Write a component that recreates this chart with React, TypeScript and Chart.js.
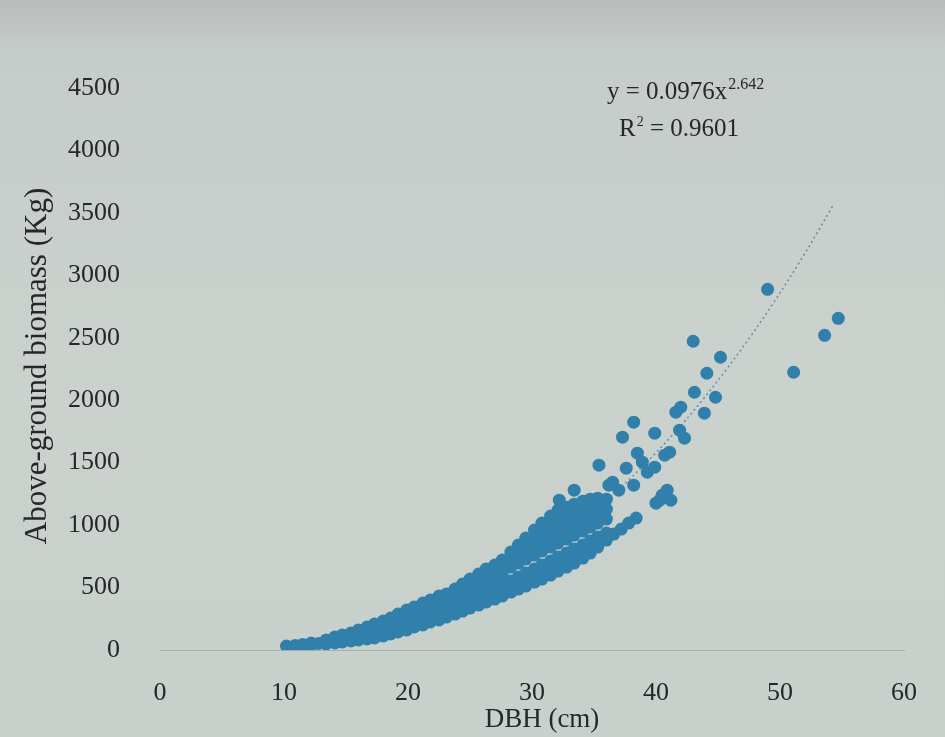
import React, { useEffect, useRef } from 'react';
import { Chart, registerables } from 'chart.js';

Chart.register(...registerables);

// ---- tick labels & texts ----
const X_TICKS = [0, 10, 20, 30, 40, 50, 60];
const Y_TICKS = [0, 500, 1000, 1500, 2000, 2500, 3000, 3500, 4000, 4500];
const X_TITLE = 'DBH (cm)';
const Y_TITLE = 'Above-ground biomass (Kg)';
const EQ_MAIN = 'y = 0.0976x';
const EQ_EXP = '2.642';
const R2_BASE = 'R';
const R2_EXP = '2';
const R2_VALUE = ' = 0.9601';

// ---- data: [DBH (cm), biomass (Kg)] ----
const mainBand: [number, number][] = [
  [10.2, 32], [10.9, 36], [11.5, 44],
  [12.2, 40], [12.2, 56], [12.8, 52],
  [13.4, 48], [13.4, 80], [14.1, 56], [14.1, 104],
  [14.7, 64], [14.7, 120], [15.4, 72], [15.4, 136],
  [16.0, 80], [16.0, 160],
  [16.7, 88], [16.7, 136], [16.7, 184],
  [17.3, 96], [17.3, 150], [17.3, 208],
  [18.0, 112], [18.0, 170], [18.0, 232],
  [18.6, 128], [18.6, 190], [18.6, 256],
  [19.2, 144], [19.2, 215], [19.2, 288],
  [19.9, 160], [19.9, 240], [19.9, 320],
  [20.5, 184], [20.5, 240], [20.5, 290], [20.5, 344],
  [21.2, 200], [21.2, 260], [21.2, 320], [21.2, 376],
  [21.8, 224], [21.8, 280], [21.8, 340], [21.8, 400],
  [22.5, 240], [22.5, 305], [22.5, 370], [22.5, 432],
  [23.1, 264], [23.1, 325], [23.1, 385], [23.1, 448],
  [23.8, 288], [23.8, 355], [23.8, 420], [23.8, 488],
  [24.4, 312], [24.4, 380], [24.4, 450], [24.4, 528],
  [25.0, 336], [25.0, 400], [25.0, 470], [25.0, 530], [25.0, 568],
  [25.7, 360], [25.7, 420], [25.7, 480], [25.7, 545], [25.7, 608],
  [26.3, 384], [26.3, 450], [26.3, 515], [26.3, 580], [26.3, 648],
  [27.0, 408], [27.0, 470], [27.0, 530], [27.0, 590], [27.0, 640], [27.0, 680],
  [27.6, 432], [27.6, 490], [27.6, 550], [27.6, 610], [27.6, 665], [27.6, 720],
];

const upperBranch: [number, number][] = [
  [28.3, 664], [28.3, 720], [28.3, 784],
  [28.9, 696], [28.9, 770], [28.9, 840],
  [29.5, 728], [29.5, 784], [29.5, 840], [29.5, 896],
  [30.2, 760], [30.2, 825], [30.2, 890], [30.2, 960],
  [30.8, 792], [30.8, 866], [30.8, 940], [30.8, 1016],
  [31.5, 824], [31.5, 886], [31.5, 948], [31.5, 1010], [31.5, 1072],
  [32.1, 856], [32.1, 922], [32.1, 988], [32.1, 1054], [32.1, 1120],
  [32.8, 888], [32.8, 952], [32.8, 1016], [32.8, 1080], [32.8, 1144],
  [33.4, 920], [33.4, 982], [33.4, 1044], [33.4, 1106], [33.4, 1168],
  [34.1, 952], [34.1, 1012], [34.1, 1072], [34.1, 1132], [34.1, 1192],
  [34.7, 984], [34.7, 1058], [34.7, 1132], [34.7, 1208],
  [35.3, 1016], [35.3, 1083], [35.3, 1150], [35.3, 1216],
  [36.0, 1048], [36.0, 1128], [36.0, 1208],
];

const lowerBranch: [number, number][] = [
  [28.3, 464], [28.3, 510], [28.3, 552],
  [28.9, 488], [28.9, 536], [28.9, 584],
  [29.5, 512], [29.5, 564], [29.5, 616],
  [30.2, 544], [30.2, 600], [30.2, 648],
  [30.8, 568], [30.8, 624], [30.8, 680],
  [31.5, 600], [31.5, 656], [31.5, 712],
  [32.1, 632], [32.1, 688], [32.1, 744],
  [32.8, 664], [32.8, 720], [32.8, 776],
  [33.4, 696], [33.4, 752], [33.4, 808],
  [34.1, 736], [34.1, 790], [34.1, 840],
  [34.7, 776], [34.7, 872],
  [35.3, 824], [35.3, 904],
  [36.0, 880], [36.0, 936],
  [36.6, 928], [37.2, 968], [37.8, 1016], [38.4, 1056],
  [40.0, 1176], [40.3, 1200], [40.5, 1240], [40.9, 1280], [41.2, 1200],
];

const scattered: [number, number][] = [
  [32.2, 1200], [33.4, 1280], [35.4, 1480], [37.6, 1456],
  [36.5, 1344], [36.2, 1320], [37.0, 1280], [38.2, 1320],
  [38.5, 1576], [38.9, 1504], [39.3, 1424], [39.9, 1464],
  [40.7, 1560], [41.1, 1584],
  [37.3, 1704], [38.2, 1824], [39.9, 1736], [41.9, 1760],
  [42.3, 1696], [41.6, 1904], [42.0, 1944],
  [43.1, 2064], [43.9, 1896], [44.8, 2024], [44.1, 2216],
  [45.2, 2344], [43.0, 2472],
  [49.0, 2888], [51.1, 2224], [53.6, 2520], [54.7, 2656],
];

// dotted power trendline
const trendDbh = [10, 15, 20, 25, 30, 35, 40, 42.4, 44, 46, 48, 50, 52, 54.3];
const trendBiomass = [40, 118, 253, 456, 740, 1110, 1580, 1842, 2033, 2289, 2564, 2859, 3174, 3563];

// ---- styles ----
const POINT_COLOR = '#3180ab';
const TREND_COLOR = 'rgba(78,136,170,0.9)';
const TEXT_COLOR = '#262827';
const SERIF = '"Liberation Serif", "DejaVu Serif", serif';

const bgPlugin = {
  id: 'photoBg',
  beforeDraw(chart: any) {
    const { ctx, width, height } = chart;
    ctx.save();
    const g = ctx.createLinearGradient(0, 0, 0, height);
    g.addColorStop(0, '#b8bdbb');
    g.addColorStop(0.07, '#c6ccc9');
    g.addColorStop(0.5, '#cbd2ce');
    g.addColorStop(1, '#c8d0cb');
    ctx.fillStyle = g;
    ctx.fillRect(0, 0, width, height);
    ctx.restore();
  },
};

const textPlugin = {
  id: 'texts',
  afterDraw(chart: any) {
    const { ctx } = chart;
    ctx.save();
    ctx.fillStyle = TEXT_COLOR;
    ctx.textBaseline = 'alphabetic';

    // y title
    ctx.save();
    ctx.translate(46, 366);
    ctx.rotate(-Math.PI / 2);
    ctx.font = `31px ${SERIF}`;
    ctx.textAlign = 'center';
    ctx.fillText(Y_TITLE, 0, 0);
    ctx.restore();

    // x title
    ctx.font = `27px ${SERIF}`;
    ctx.textAlign = 'center';
    ctx.fillText(X_TITLE, 542, 727);

    // equation
    ctx.textAlign = 'left';
    ctx.font = `25px ${SERIF}`;
    const x0 = 607;
    ctx.fillText(EQ_MAIN, x0, 99);
    const w1 = ctx.measureText(EQ_MAIN).width;
    ctx.font = `16px ${SERIF}`;
    ctx.fillText(EQ_EXP, x0 + w1 + 1, 89);

    ctx.font = `25px ${SERIF}`;
    const x1 = 619;
    ctx.fillText(R2_BASE, x1, 136);
    const wr = ctx.measureText(R2_BASE).width;
    ctx.font = `14px ${SERIF}`;
    ctx.fillText(R2_EXP, x1 + wr + 1, 126);
    const we = ctx.measureText(R2_EXP).width;
    ctx.font = `25px ${SERIF}`;
    ctx.fillText(R2_VALUE, x1 + wr + we + 1, 136);
    ctx.restore();
  },
};

export default function App() {
  const ref = useRef<HTMLCanvasElement>(null);

  useEffect(() => {
    const canvas = ref.current;
    if (!canvas) return;
    const pts = [...mainBand, ...upperBranch, ...lowerBranch, ...scattered].map(([x, y]) => ({ x, y }));
    const trend = trendDbh.map((x, i) => ({ x, y: trendBiomass[i] }));

    const tickFont = { family: SERIF, size: 26 };

    const chart = new Chart(canvas, {
      type: 'scatter',
      data: {
        datasets: [
          {
            data: pts,
            backgroundColor: POINT_COLOR,
            borderWidth: 0,
            pointRadius: 6.5,
            pointHoverRadius: 6.5,
          },
          {
            data: trend,
            showLine: true,
            borderColor: TREND_COLOR,
            borderWidth: 1.5,
            borderDash: [2, 3],
            pointRadius: 0,
            fill: false,
            cubicInterpolationMode: 'monotone',
          } as any,
        ],
      },
      options: {
        responsive: false,
        animation: false,
        events: [],
        layout: { padding: { left: 0, right: 40, top: 88, bottom: 0 } },
        plugins: {
          legend: { display: false },
          tooltip: { enabled: false },
          title: { display: false },
        },
        scales: {
          x: {
            type: 'linear',
            min: 0,
            max: 60,
            afterBuildTicks: (s: any) => {
              s.ticks = X_TICKS.map((v) => ({ value: v }));
            },
            afterFit: (s: any) => {
              s.height = 87;
            },
            grid: { display: false, drawTicks: false },
            border: { display: true, color: 'rgba(150,160,155,0.7)', width: 1 },
            ticks: {
              padding: 28,
              color: TEXT_COLOR,
              font: tickFont,
              maxRotation: 0,
              autoSkip: false,
              callback: (v: any) => String(v),
            },
          },
          y: {
            type: 'linear',
            min: 0,
            max: 4500,
            afterBuildTicks: (s: any) => {
              s.ticks = Y_TICKS.map((v) => ({ value: v }));
            },
            afterFit: (s: any) => {
              s.width = 160;
            },
            grid: { display: false, drawTicks: false },
            border: { display: false },
            ticks: {
              padding: 40,
              color: TEXT_COLOR,
              font: tickFont,
              autoSkip: false,
              callback: (v: any) => String(v),
            },
          },
        },
      },
      plugins: [bgPlugin, textPlugin],
    });
    return () => chart.destroy();
  }, []);

  return (
    <div style={{ position: 'fixed', left: 0, top: 0, width: 945, height: 737 }}>
      <canvas ref={ref} width={945} height={737} style={{ display: 'block', width: 945, height: 737 }} />
    </div>
  );
}
